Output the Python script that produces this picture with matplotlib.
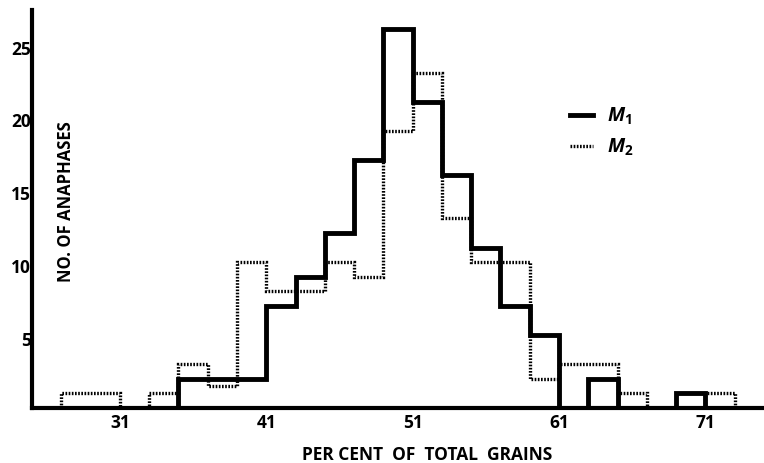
import matplotlib
matplotlib.use("Agg")
import matplotlib.pyplot as plt
import matplotlib.transforms as mtrans
from matplotlib.lines import Line2D

# bin edges (per cent of total grains), 2-unit classes
bin_edges = [27, 29, 31, 33, 35, 37, 39, 41, 43, 45, 47, 49, 51, 53, 55, 57, 59, 61, 63, 65, 67, 69, 71, 73]

# number of anaphases per class
m1_counts = [0, 0, 0, 0, 2, 2, 2, 7, 9, 12, 17, 26, 21, 16, 11, 7, 5, 0, 2, 0, 0, 1, 0]
m2_counts = [1, 1, 0, 1, 3, 1.5, 10, 8, 8, 10, 9, 19, 23, 13, 10, 10, 2, 3, 3, 1, 0, 0, 1]

x_ticks = [31, 41, 51, 61, 71]
y_ticks = [5, 10, 15, 20, 25]

plt.rcParams['font.family'] = ['Open Sans', 'DejaVu Sans']
plt.rcParams['mathtext.fontset'] = 'custom'
plt.rcParams['mathtext.it'] = 'Open Sans:italic:bold'
plt.rcParams['mathtext.rm'] = 'Open Sans:bold'

dotted = (0, (0.5, 0.45))

fig = plt.figure(figsize=(7.64, 4.63), dpi=100)
ax = fig.add_axes([32 / 764, 55 / 463, 1 - 32 / 764, 398 / 463])

ax.stairs(m2_counts, bin_edges, baseline=0, color='black', lw=2.4, linestyle=dotted)
ax.stairs(m1_counts, bin_edges, baseline=0, color='black', lw=3.5)
for p in ax.patches:
    p.set_joinstyle('miter')

ax.set_xlim(25, 75)
ax.set_ylim(0, 27.3)

for s in ['top', 'right']:
    ax.spines[s].set_visible(False)
for s in ['left', 'bottom']:
    ax.spines[s].set_linewidth(3.0)
    ax.spines[s].set_capstyle('projecting')

ax.set_xticks(x_ticks)
ax.set_yticks(y_ticks)
ax.tick_params(length=0, labelsize=12.5)
ax.tick_params(axis='x', pad=4)
ax.tick_params(axis='y', pad=1)
for lab in ax.get_xticklabels() + ax.get_yticklabels():
    lab.set_fontweight('bold')
offset = mtrans.ScaledTranslation(0, -4 / 100, fig.dpi_scale_trans)
for lab in ax.get_yticklabels():
    lab.set_transform(lab.get_transform() + offset)

fig.text(66 / 764, 1 - 202 / 463, 'NO. OF ANAPHASES', rotation=90,
         ha='center', va='center', fontsize=12, fontweight='bold')
fig.text(427 / 764, 1 - 455 / 463, 'PER CENT  OF  TOTAL  GRAINS', ha='center', va='center',
         fontsize=12.5, fontweight='bold')

h1 = Line2D([], [], color='black', lw=3.5)
h2 = Line2D([], [], color='black', lw=2.4, linestyle=dotted)
ax.legend([h1, h2], ['$\\mathit{M}_1$', '$\\mathit{M}_2$'], loc='upper left',
          bbox_to_anchor=(570 / 764, 1 - 106 / 463), bbox_transform=fig.transFigure,
          frameon=False, fontsize=14, handlelength=1.2, handletextpad=0.7,
          labelspacing=0.5, borderpad=0, borderaxespad=0)

fig.savefig('out.png', dpi=100)
